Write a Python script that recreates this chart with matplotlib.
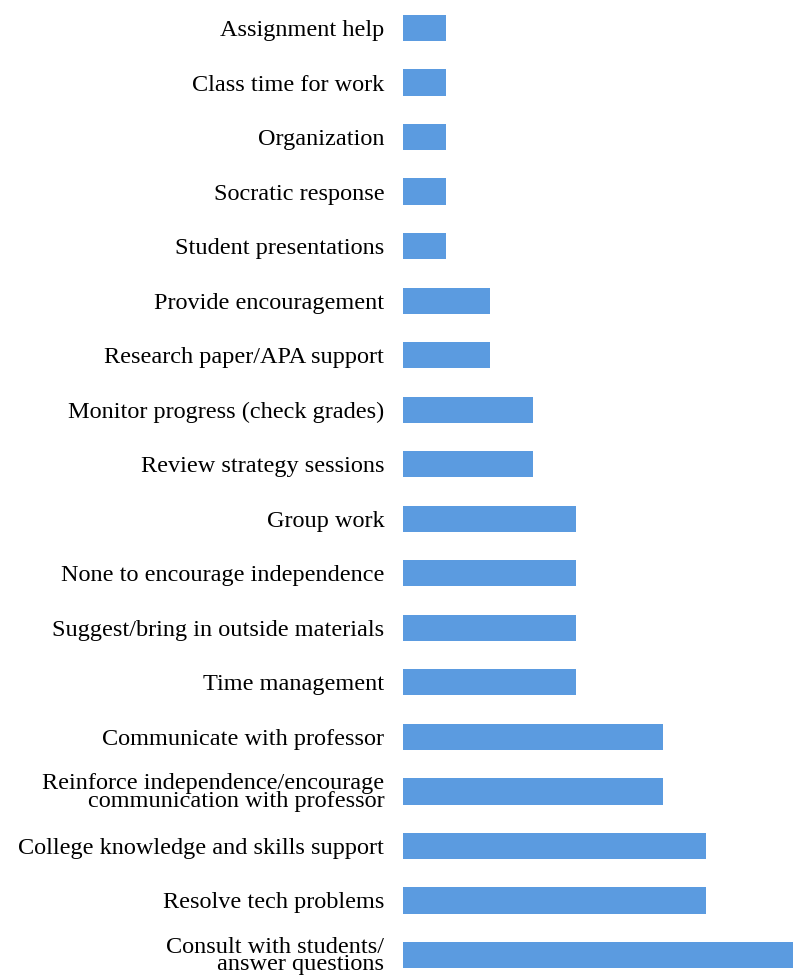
import matplotlib
matplotlib.use("Agg")
import matplotlib.pyplot as plt

labels = [
    "Assignment help",
    "Class time for work",
    "Organization",
    "Socratic response",
    "Student presentations",
    "Provide encouragement",
    "Research paper/APA support",
    "Monitor progress (check grades)",
    "Review strategy sessions",
    "Group work",
    "None to encourage independence",
    "Suggest/bring in outside materials",
    "Time management",
    "Communicate with professor",
    "Reinforce independence/encourage\ncommunication with professor",
    "College knowledge and skills support",
    "Resolve tech problems",
    "Consult with students/\nanswer questions",
]
counts = [1, 1, 1, 1, 1, 2, 2, 3, 3, 4, 4, 4, 4, 6, 6, 7, 7, 9]

plt.rcParams["font.family"] = ["Liberation Serif", "DejaVu Serif"]

fig = plt.figure(figsize=(7.98, 9.80), dpi=100)
ax = fig.add_axes([403 / 798, 0, 395 / 798, 1])

pos = list(range(len(labels)))
ax.barh(pos, counts, height=0.48, color="#5b9be0", edgecolor="none")
ax.set_xlim(0, 395 / 43.3)
ax.set_ylim(17.458, -0.513)

ax.set_yticks(pos)
ax.set_yticklabels(labels, fontsize=17.5, linespacing=0.8, ha="right")
ax.tick_params(axis="y", length=0, pad=13.5)
ax.set_xticks([])
for s in ax.spines.values():
    s.set_visible(False)

plt.savefig("out.png", dpi=100)
plt.close()
